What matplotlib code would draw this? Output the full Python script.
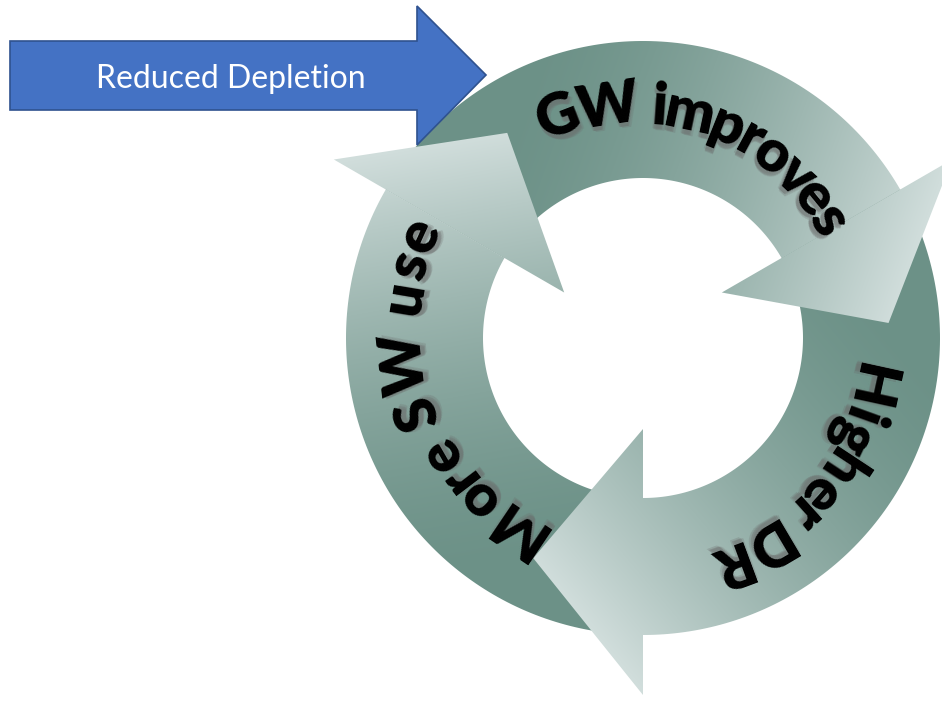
import numpy as np
import matplotlib
matplotlib.use('Agg')
import matplotlib.pyplot as plt
from matplotlib.patches import Polygon
from matplotlib.font_manager import FontProperties, findfont, get_font

W, H = 942, 701

# ring geometry (pixels)
cx, cy = 643, 338
r_in, r_out = 160, 297
barb_in, barb_out, tip_r = 91, 357, 246
tip_lag = 26.5

# the three cycle arrows, clockwise
labels = ['GW improves', 'Higher DR', 'More SW use']
tail_deg = [150, 30, 270]
head_deg = [30, -90, 150]

# text arcs: first/last character angle and baseline radius
text_a0 = [111, -12.3, -124]
text_a1 = [32.5, -69.6, -204.6]
text_r0 = [219, 214, 210]
text_r1 = [203, 223, 229]

dark = np.array([108, 145, 135]) / 255
light = np.array([208, 221, 219]) / 255

banner_text = 'Reduced Depletion'


def pt(r, a):
    a = np.radians(a)
    return cx + r * np.cos(a), cy - r * np.sin(a)


fig = plt.figure(figsize=(W / 100, H / 100), dpi=100)
ax = fig.add_axes([0, 0, 1, 1])
ax.set_xlim(0, W)
ax.set_ylim(H, 0)
ax.set_aspect('equal')
ax.axis('off')

X, Y = np.meshgrid(np.arange(W) + 0.5, np.arange(H) + 0.5)


def gradient(start, end):
    dx, dy = end[0] - start[0], end[1] - start[1]
    t = ((X - start[0]) * dx + (Y - start[1]) * dy) / (dx * dx + dy * dy)
    t = np.clip(t, 0, 1)[..., None] ** 1.6
    img = np.ones((H, W, 4))
    img[..., :3] = dark + (light - dark) * t
    return img


def fill(poly, img, z):
    patch = Polygon(poly, closed=True, facecolor='none', edgecolor='none')
    ax.add_patch(patch)
    im = ax.imshow(img, extent=(0, W, H, 0), interpolation='bilinear', zorder=z)
    im.set_clip_path(patch)


heads = []
for i in range(3):
    t0, t1 = tail_deg[i], head_deg[i]
    start = pt((r_in + r_out) / 2, t0 - 15)
    tip = pt(tip_r, t1 - tip_lag)
    img = gradient(start, tip)

    a = np.linspace(t0, t1, 120)
    outer = np.column_stack(pt(r_out, a))
    inner = np.column_stack(pt(r_in, a[::-1]))
    fill(np.vstack([outer, inner]), img, 1)

    head = [pt(barb_in, t1), pt(barb_out, t1), tip]
    heads.append((head, img))

# heads sit over the tail of the following arrow
for head, img in heads:
    fill(np.array(head), img, 2)

# curved labels, one glyph at a time
fs = 42
px = 100 / 72
fp = FontProperties(family='Lato', weight='heavy', size=fs)
font = get_font(findfont(fp))
font.set_size(fs, 72)


def advance(c):
    return font.load_char(ord(c)).linearHoriAdvance / 65536 * px


# soft drop shadow: a few faint copies pushed toward the ring centre
shadow = [(-5, 0, 0.35), (-4, 0.4, 0.25), (-6, -0.4, 0.25)]

for i, s in enumerate(labels):
    adv = np.array([advance(c) for c in s])
    centers = np.cumsum(adv) - adv / 2
    u = (centers - centers[0]) / (centers[-1] - centers[0])
    for c, ui in zip(s, u):
        if c == ' ':
            continue
        a = text_a0[i] + ui * (text_a1[i] - text_a0[i])
        r = text_r0[i] + ui * (text_r1[i] - text_r0[i])
        for dr, da, al in shadow:
            x, y = pt(r + dr, a + da)
            ax.text(x, y, c, fontproperties=fp, color='#6a6a6a', alpha=al,
                    rotation=a - 90, rotation_mode='anchor',
                    ha='center', va='baseline', zorder=3)
        x, y = pt(r, a)
        ax.text(x, y, c, fontproperties=fp, color='black',
                rotation=a - 90, rotation_mode='anchor',
                ha='center', va='baseline', zorder=4)

# blue block arrow on the left
banner = [(10, 41), (417, 41), (417, 6), (486, 75),
          (417, 145), (417, 110), (10, 110)]
ax.add_patch(Polygon(banner, closed=True, facecolor='#4472C4',
                     edgecolor='#2F528F', linewidth=1.2, zorder=5))
ax.text(231, 88, banner_text, family='Lato', size=23, color='white',
        ha='center', va='baseline', zorder=6)

fig.savefig('out.png', dpi=100)
